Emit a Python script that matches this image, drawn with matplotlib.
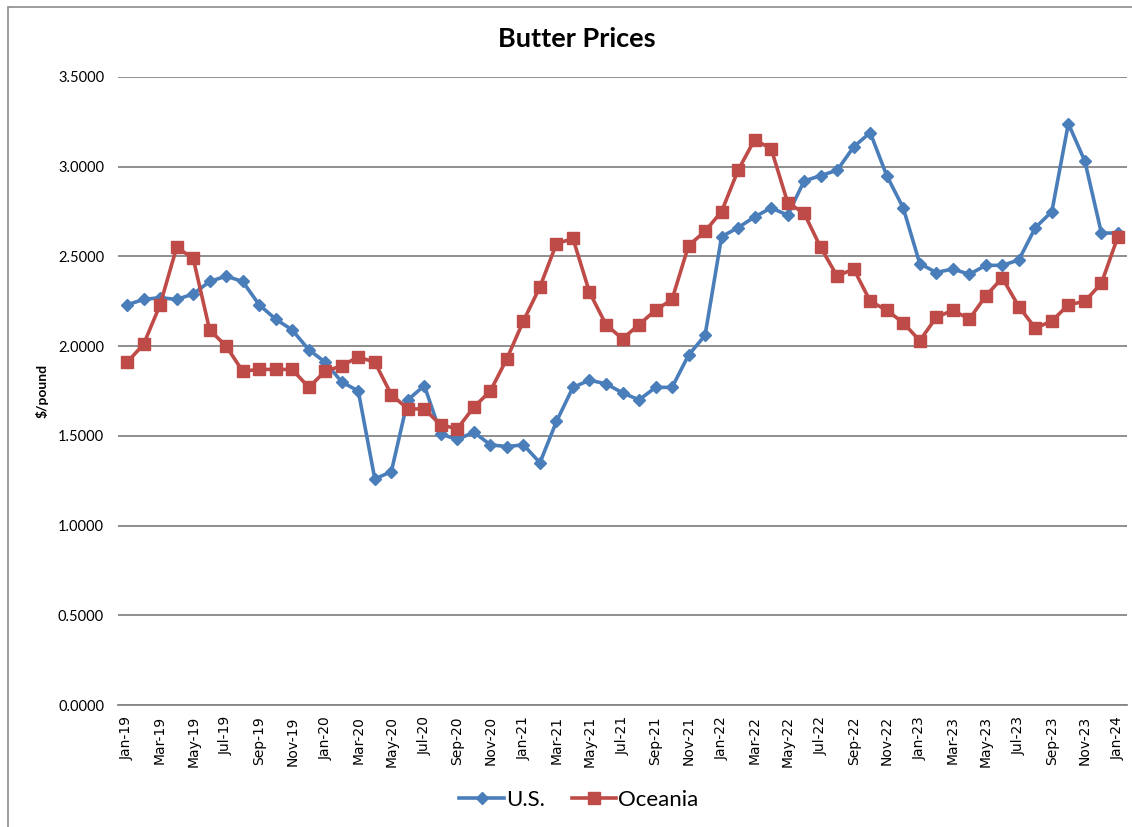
import numpy as np
import matplotlib.pyplot as plt
from matplotlib.patches import Rectangle

months = ['Jan', 'Feb', 'Mar', 'Apr', 'May', 'Jun', 'Jul', 'Aug', 'Sep', 'Oct', 'Nov', 'Dec']
years = ['19', '20', '21', '22', '23']
dates = [m + '-' + y for y in years for m in months] + ['Jan-24']

us = [2.23, 2.26, 2.27, 2.26, 2.29, 2.36, 2.39, 2.36, 2.23, 2.15, 2.09, 1.98,
      1.91, 1.80, 1.75, 1.26, 1.30, 1.70, 1.78, 1.51, 1.48, 1.52, 1.45, 1.44,
      1.45, 1.35, 1.58, 1.77, 1.81, 1.79, 1.74, 1.70, 1.77, 1.77, 1.95, 2.06,
      2.61, 2.66, 2.72, 2.77, 2.73, 2.92, 2.95, 2.98, 3.11, 3.19, 2.95, 2.77,
      2.46, 2.41, 2.43, 2.40, 2.45, 2.45, 2.48, 2.66, 2.75, 3.24, 3.03, 2.63,
      2.63]

oceania = [1.91, 2.01, 2.23, 2.55, 2.49, 2.09, 2.00, 1.86, 1.87, 1.87, 1.87, 1.77,
           1.86, 1.89, 1.94, 1.91, 1.73, 1.65, 1.65, 1.56, 1.54, 1.66, 1.75, 1.93,
           2.14, 2.33, 2.57, 2.60, 2.30, 2.12, 2.04, 2.12, 2.20, 2.26, 2.56, 2.64,
           2.75, 2.98, 3.15, 3.10, 2.80, 2.74, 2.55, 2.39, 2.43, 2.25, 2.20, 2.13,
           2.03, 2.16, 2.20, 2.15, 2.28, 2.38, 2.22, 2.10, 2.14, 2.23, 2.25, 2.35,
           2.61]

x = np.arange(len(dates))

fig = plt.figure(figsize=(11.32, 8.27), dpi=100)
# outer chart border (runs off the right and bottom edges)
fig.patches.append(Rectangle((8 / 1132, -0.1), 1.2, 1 - 7 / 827 + 0.1, transform=fig.transFigure,
                             fill=False, edgecolor='#8c8c8c', linewidth=1.2))

ax = fig.add_axes([118 / 1132, 0.1475, 1009 / 1132, 0.7595])
ax.plot(x, us, color='#4A7EBB', linewidth=2.6, marker='D', markersize=6.5, label='U.S.')
ax.plot(x, oceania, color='#BE4B48', linewidth=2.6, marker='s', markersize=8.5, label='Oceania')

ax.set_ylim(0, 3.5)
ax.set_xlim(-0.55, 60.55)
yt = np.arange(0, 3.51, 0.5)
ax.set_yticks(yt)
ax.set_yticklabels(['%.4f' % v for v in yt], family='Lato', fontsize=10.5)
ax.set_xticks(x[::2])
ax.set_xticklabels(dates[::2], rotation=90, fontsize=10, family='DejaVu Sans')
ax.grid(axis='y', color='#868686', linewidth=1.3)
ax.set_axisbelow(True)
for s in ['top', 'right', 'left']:
    ax.spines[s].set_visible(False)
ax.spines['bottom'].set_color('#868686')
ax.spines['bottom'].set_linewidth(1.3)
ax.tick_params(axis='y', length=0, pad=10)
ax.tick_params(axis='x', length=0, pad=8)

fig.text(42 / 1132, 1 - 391 / 827, '$/pound', family='Lato', fontweight='bold', fontsize=10,
         rotation=90, ha='center', va='center')
fig.text(577 / 1132, 1 - 39 / 827, 'Butter Prices', family='Lato', fontweight='bold', fontsize=19.5,
         ha='center', va='center')

fig.legend(loc='center', bbox_to_anchor=(579 / 1132, 1 - 800 / 827), ncol=2, frameon=False,
           prop={'family': 'Lato', 'size': 16}, handlelength=2.0, handletextpad=0.1,
           columnspacing=1.2)

fig.savefig('out.png', dpi=100)
